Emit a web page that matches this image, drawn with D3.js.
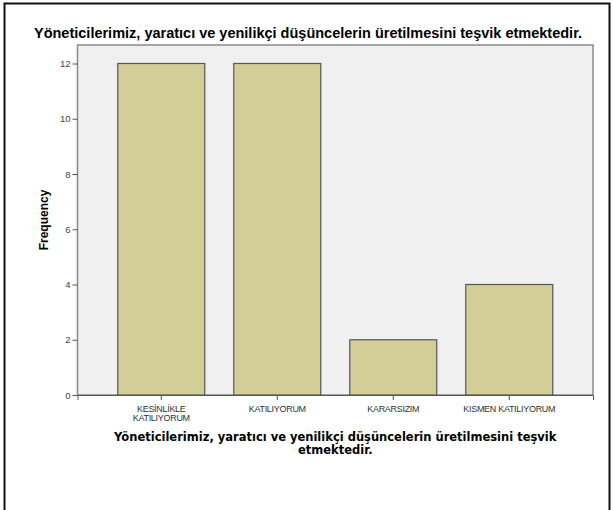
<!DOCTYPE html>
<html>
<head>
<meta charset="utf-8">
<script src="https://cdn.jsdelivr.net/npm/d3@7"></script>
<style>
  html, body { margin: 0; padding: 0; background: #fff; }
  svg { display: block; }
</style>
</head>
<body>
<svg id="chart"></svg>
<script>
// Data
const categories = ['KESİNLİKLE KATILIYORUM', 'KATILIYORUM', 'KARARSIZIM', 'KISMEN KATILIYORUM'];
const categoryLines = [['KESİNLİKLE', 'KATILIYORUM'], ['KATILIYORUM'], ['KARARSIZIM'], ['KISMEN KATILIYORUM']];
const frequencies = [12, 12, 2, 4];
const yTicks = [0, 2, 4, 6, 8, 10, 12];

const TITLE = 'Yöneticilerimiz, yaratıcı ve yenilikçi düşüncelerin üretilmesini teşvik etmektedir.';
const X_TITLE = ['Yöneticilerimiz, yaratıcı ve yenilikçi düşüncelerin üretilmesini teşvik', 'etmektedir.'];

const W = 613, H = 510;
const plot = { left: 77.5, right: 593, top: 45, bottom: 395 };

const svg = d3.select('#chart').attr('width', W).attr('height', H);

// outer frame
svg.append('path')
  .attr('d', `M4.5,${H} L4.5,3.5 L609.5,3.5 L609.5,${H}`)
  .attr('fill', 'none')
  .attr('stroke', '#111')
  .attr('stroke-width', 2);

// chart title
svg.append('text')
  .attr('x', 308).attr('y', 38)
  .attr('text-anchor', 'middle')
  .attr('font-family', 'Liberation Sans, Arial, sans-serif')
  .attr('font-weight', 'bold')
  .attr('font-size', '14.5px')
  .attr('fill', '#000')
  .text(TITLE);

const x = d3.scaleBand()
  .domain(categories)
  .range([plot.left, plot.right])
  .paddingInner(0.25)
  .paddingOuter(0.347);

const y = d3.scaleLinear()
  .domain([0, 12])
  .range([plot.bottom, 63.5]);

// plot background
svg.append('rect')
  .attr('x', plot.left).attr('y', plot.top)
  .attr('width', plot.right - plot.left)
  .attr('height', plot.bottom - plot.top)
  .attr('fill', '#f0f0f0')
  .attr('stroke', '#8a8a8a')
  .attr('stroke-width', 1.5);

// bars
svg.append('g').selectAll('rect')
  .data(frequencies)
  .enter()
  .append('rect')
  .attr('x', (d, i) => x(categories[i]))
  .attr('y', d => y(d))
  .attr('width', x.bandwidth())
  .attr('height', d => y(0) - y(d))
  .attr('fill', '#d3ce97')
  .attr('stroke', '#555')
  .attr('stroke-width', 1.2);

// y axis
const yAxis = svg.append('g')
  .attr('transform', `translate(${plot.left},0)`)
  .call(d3.axisLeft(y).tickValues(yTicks).tickSize(5).tickPadding(2).tickFormat(d3.format('d')));
yAxis.select('.domain').remove();
yAxis.selectAll('line').attr('stroke', '#555');
yAxis.selectAll('text')
  .attr('font-family', 'Liberation Sans, Arial, sans-serif')
  .attr('font-size', '9.5px')
  .attr('fill', '#444');

// x axis
const xAxis = svg.append('g')
  .attr('transform', `translate(0,${plot.bottom})`)
  .call(d3.axisBottom(x).tickSize(5).tickFormat(''));
xAxis.select('.domain').attr('stroke', '#555');
xAxis.selectAll('line').attr('stroke', '#555');
xAxis.selectAll('.tick text').remove();

xAxis.selectAll('.tick').each(function(d, i) {
  const t = d3.select(this).append('text')
    .attr('text-anchor', 'middle')
    .attr('font-family', 'Liberation Sans, Arial, sans-serif')
    .attr('font-size', '9px')
    .attr('letter-spacing', '-0.3px')
    .attr('fill', '#333');
  categoryLines[i].forEach((line, k) => {
    t.append('tspan').attr('x', 0).attr('y', 17 + k * 9).text(line);
  });
});

// y title
svg.append('text')
  .attr('transform', `translate(48,${(plot.top + plot.bottom) / 2}) rotate(-90)`)
  .attr('text-anchor', 'middle')
  .attr('font-family', 'Liberation Sans, Arial, sans-serif')
  .attr('font-weight', 'bold')
  .attr('font-size', '12px')
  .attr('fill', '#000')
  .text('Frequency');

// x title, two lines
svg.append('g').selectAll('text')
  .data(X_TITLE)
  .enter()
  .append('text')
  .attr('x', (plot.left + plot.right) / 2)
  .attr('y', (d, k) => 441 + k * 13)
  .attr('text-anchor', 'middle')
  .attr('font-family', 'DejaVu Sans, Verdana, sans-serif')
  .attr('font-weight', 'bold')
  .attr('font-size', '11.5px')
  .attr('fill', '#000')
  .text(d => d);
</script>
</body>
</html>
